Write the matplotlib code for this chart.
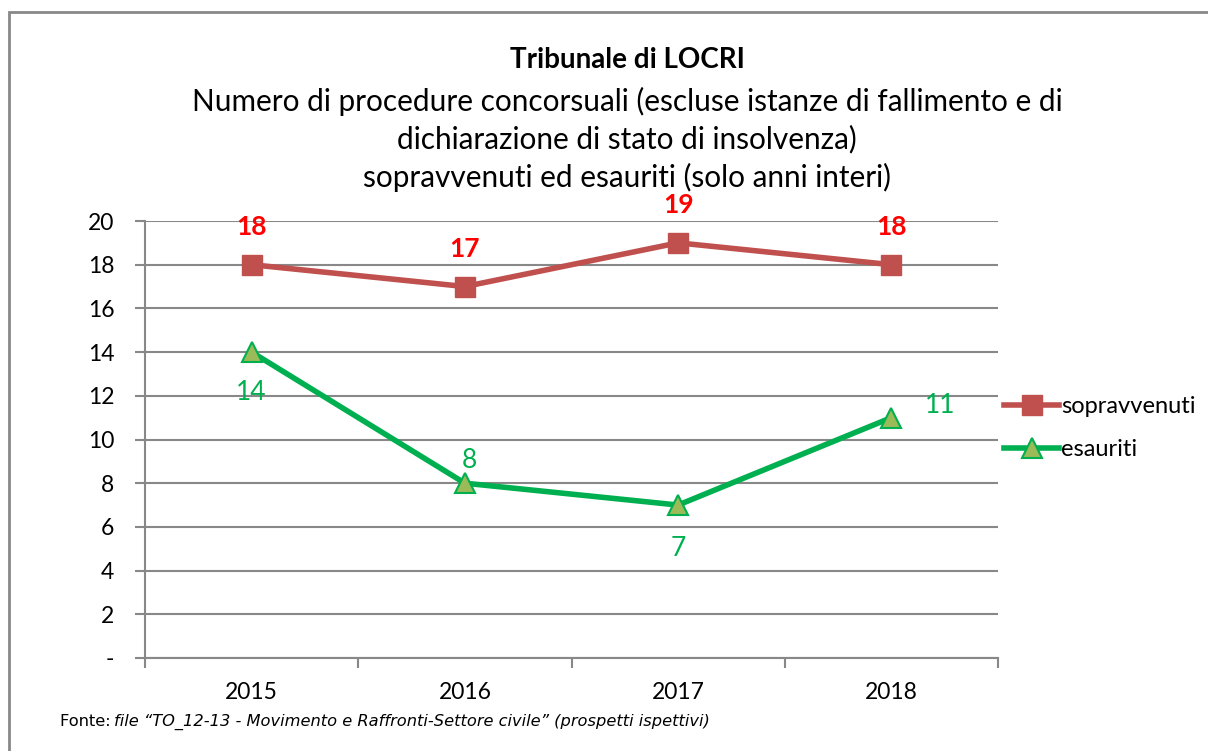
import matplotlib
matplotlib.use("Agg")
import matplotlib.pyplot as plt
from matplotlib.lines import Line2D
from matplotlib.patches import Rectangle

years = ["2015", "2016", "2017", "2018"]
sopravvenuti = [18, 17, 19, 18]
esauriti = [14, 8, 7, 11]
yticks = [0, 2, 4, 6, 8, 10, 12, 14, 16, 18, 20]
ytick_labels = ["-", "2", "4", "6", "8", "10", "12", "14", "16", "18", "20"]

FONT = ["Lato", "DejaVu Sans"]
plt.rcParams['font.family'] = FONT

RED = "#C0504D"
GREEN = "#00B050"
TRI_FILL = "#9BBB59"
GRID = "#888888"

fig = plt.figure(figsize=(12.08, 7.51), dpi=100)
fig.patches.append(Rectangle((9/1208, -0.1), 2.0, 1 - 12/751 + 0.1, transform=fig.transFigure,
                             fill=False, edgecolor="#888888", linewidth=2))

ax = fig.add_axes([145/1208, 1 - 658/751, (998-145)/1208, (658-221)/751])
x = list(range(len(years)))
ax.set_xlim(-0.5, len(years) - 0.5)
ax.set_ylim(0, 20)

ax.plot(x, sopravvenuti, color=RED, linewidth=4, marker="s", markersize=14,
        markerfacecolor=RED, markeredgecolor=RED, zorder=3)
ax.plot(x, esauriti, color=GREEN, linewidth=4, marker="^", markersize=15,
        markerfacecolor=TRI_FILL, markeredgecolor=GREEN, markeredgewidth=1.5, zorder=3)

for i, v in enumerate(sopravvenuti):
    ax.annotate(str(v), (x[i], v), xytext=(0, 27), textcoords="offset points",
                ha="center", va="center", color="#FF0000", fontsize=19, fontweight="bold")

offs = [(0, -29), (3, 16), (0, -31), (35, 9)]
for i, v in enumerate(esauriti):
    ax.annotate(str(v), (x[i], v), xytext=offs[i], textcoords="offset points",
                ha="center", va="center", color=GREEN, fontsize=19)

ax.set_yticks(yticks)
ax.set_yticklabels(ytick_labels)
ax.set_xticks(x)
ax.set_xticklabels(years)
ax.set_xticks([i - 0.5 for i in range(len(years) + 1)], minor=True)
ax.tick_params(axis="x", which="major", length=0, pad=17, labelsize=16.5)
ax.tick_params(axis="x", which="minor", length=7, width=1.5, color=GRID)
ax.tick_params(axis="y", length=7, width=1.5, color=GRID, pad=15, labelsize=16.5)

ax.grid(axis="y", color=GRID, linewidth=1.5)
ax.set_axisbelow(True)
for s in ["top", "right"]:
    ax.spines[s].set_visible(False)
for s in ["left", "bottom"]:
    ax.spines[s].set_color(GRID)
    ax.spines[s].set_linewidth(1.5)

handles = [
    Line2D([], [], color=RED, linewidth=4, marker="s", markersize=14,
           markerfacecolor=RED, markeredgecolor=RED),
    Line2D([], [], color=GREEN, linewidth=4, marker="^", markersize=15,
           markerfacecolor=TRI_FILL, markeredgecolor=GREEN, markeredgewidth=1.5),
]
fig.legend(handles, ["sopravvenuti", "esauriti"], loc="center left",
           bbox_to_anchor=(1004/1208, 1 - 428/751), frameon=False, fontsize=17,
           handlelength=2.35, handletextpad=0.08, labelspacing=0.95, borderaxespad=0,
           borderpad=0)

fig.text(627/1208, 1 - 60/751, "Tribunale di LOCRI", ha="center", va="center",
         fontsize=20, fontweight="bold")
fig.text(627/1208, 1 - 139/751,
         "Numero di procedure concorsuali (escluse istanze di fallimento e di\n"
         "dichiarazione di stato di insolvenza)\n"
         "sopravvenuti ed esauriti (solo anni interi)",
         ha="center", va="center", fontsize=21.4, linespacing=1.38)

fig.text(60/1208, 1 - 722/751, "Fonte: ", ha="left", va="center", fontsize=11.7,
         family=["DejaVu Sans"])
fig.text(114/1208, 1 - 722/751,
         "file \u201cTO_12-13 - Movimento e Raffronti-Settore civile\u201d (prospetti ispettivi)",
         ha="left", va="center", fontsize=11.7, style="italic", family=["DejaVu Sans"])

fig.savefig("out.png", dpi=100)
